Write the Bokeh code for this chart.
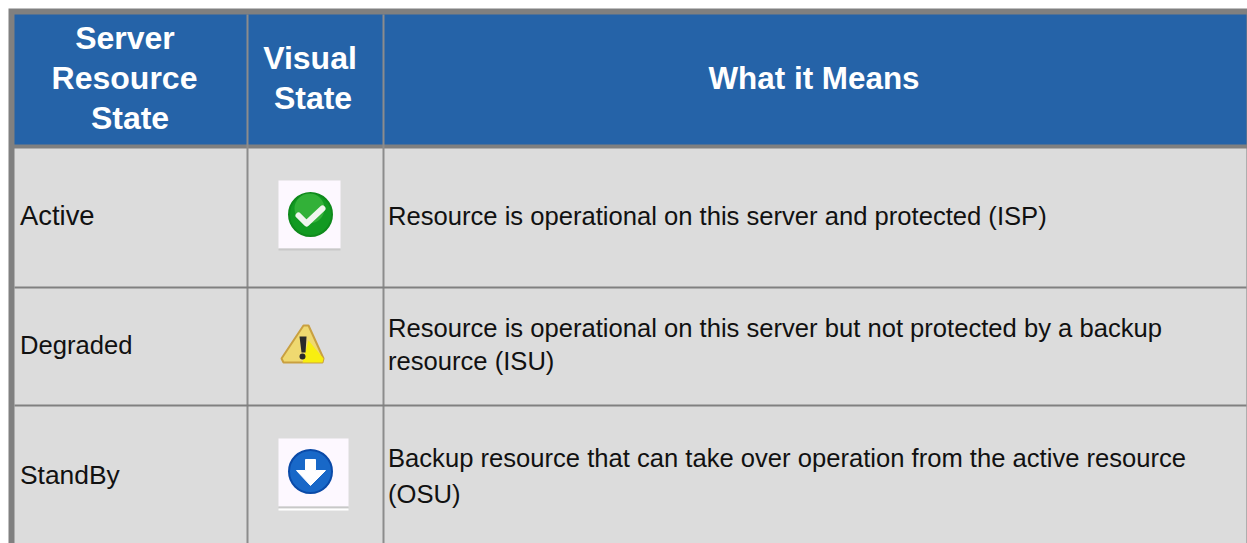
from bokeh.plotting import figure
from bokeh.models import Range1d
from bokeh.embed import file_html
from bokeh.resources import INLINE
from bokeh.core.properties import value

W, H = 1247, 543

headers = ["Server\nResource\nState", "Visual\nState", "What it Means"]
states = ["Active", "Degraded", "StandBy"]
meanings = [
    ["Resource is operational on this server and protected (ISP)"],
    ["Resource is operational on this server but not protected by a backup", "resource (ISU)"],
    ["Backup resource that can take over operation from the active resource", "(OSU)"],
]

p = figure(width=W, height=H, x_range=Range1d(0, W), y_range=Range1d(H, 0),
           toolbar_location=None, output_backend="svg", min_border=0,
           background_fill_color="#ffffff", border_fill_color="#ffffff", outline_line_color=None)
p.axis.visible = False
p.grid.visible = False

GREY = "#808080"
def rect(x0, y0, x1, y1, c, **k):
    p.quad(left=x0, right=x1, top=y0, bottom=y1, fill_color=c, line_color=None, **k)

rect(8, 8, 1247, 543, GREY)
rect(14, 14, 1246, 144, "#2563a8")
rect(14, 148, 1246, 543, "#dcdcdc")
rect(246, 14, 248, 543, "#8c8c8c")
rect(382, 14, 384, 543, "#8c8c8c")
rect(14, 286, 1246, 288, GREY)
rect(14, 404, 1246, 406, GREY)

F = value("Liberation Sans")
def txt(x, y, s, size, color, align="left", style="normal"):
    p.text(x=[x], y=[y], text=[s], text_font=F, text_font_size=size, text_color=color,
           text_align=align, text_baseline="middle", text_font_style=style)

HS = "32px"
for y, s, x in zip([37, 77, 117], headers[0].split("\n"), [124.5, 124, 129.5]):
    txt(x, y, s, HS, "#ffffff", "center", "bold")
for y, s, x in zip([57, 97], headers[1].split("\n"), [309.5, 312.5]):
    txt(x, y, s, HS, "#ffffff", "center", "bold")
txt(813.5, 78, headers[2], "31.4px", "#ffffff", "center", "bold")

BS = "25.6px"
for y, s, fs in zip([215, 344, 474], states, ["27.4px", "25.6px", "26.4px"]):
    txt(19.5, y, s, fs, "#111111")
TX = 387.5
txt(TX, 215, meanings[0][0], BS, "#111111")
txt(TX, 327, meanings[1][0], BS, "#111111")
txt(TX, 360, meanings[1][1], BS, "#111111")
txt(TX, 457, meanings[2][0], BS, "#111111")
txt(TX, 493, meanings[2][1], BS, "#111111")

# icons
rect(278, 180, 340, 248, "#fdf8ff")
rect(278, 248, 340, 250, "#c8c8c8")
p.scatter(x=[310], y=[214], size=43, marker="circle", fill_color="#129a22", line_color="#0f8a1c", line_width=2)
p.scatter(x=[309], y=[208], size=30, marker="circle", fill_color="#4cc44a", line_color=None, alpha=0.55)
p.line(x=[298, 306, 322], y=[215, 223, 208], line_color="#f0f5ee", line_width=6, line_cap="round", line_join="round")

p.patch(x=[303, 281, 283, 322, 323, 308], y=[325, 358, 362, 362, 358, 325], fill_color="#efd970", line_color="#c9a040", line_width=2)
p.patch(x=[308, 323, 322, 302], y=[340, 358, 362, 362], fill_color="#f8ee10", line_color=None)
p.patch(x=[299, 306, 305, 301], y=[336, 336, 352, 352], fill_color="#2a2a2a", line_color=None)
p.scatter(x=[302], y=[356], size=6, marker="circle", fill_color="#2a2a2a", line_color=None)

rect(278, 438, 348, 506, "#fdf8ff")
rect(278, 506, 348, 508, "#c8c8c8")
rect(278, 508, 348, 510, "#ffffff")
p.scatter(x=[310], y=[471], size=43, marker="circle", fill_color="#1868c8", line_color="#0a4aa8", line_width=2)
p.patch(x=[296, 305, 305, 315, 315, 325, 310], y=[470, 470, 459, 459, 470, 470, 485], fill_color="#ffffff", line_color="#ffffff", line_width=1)

open("out.html", "w").write(file_html(p, INLINE))
